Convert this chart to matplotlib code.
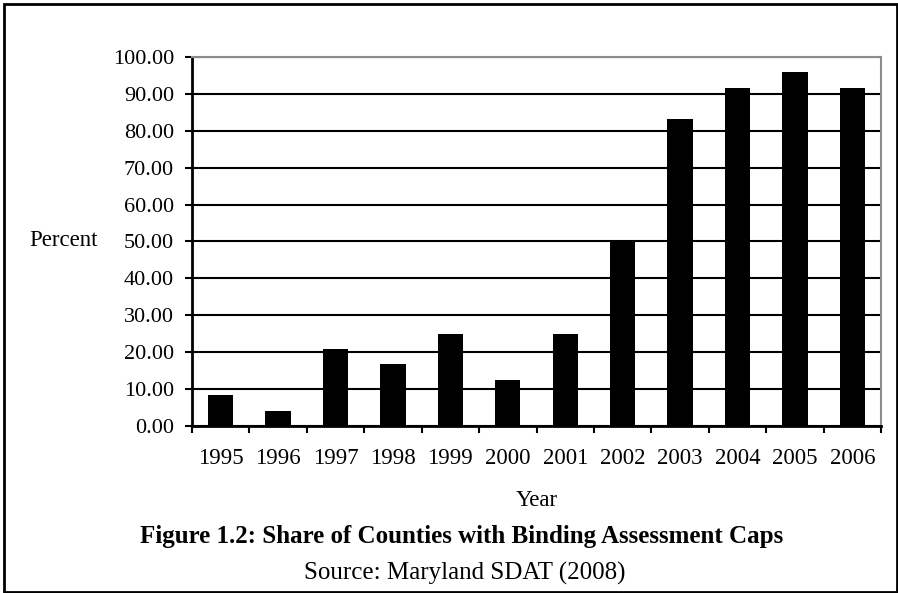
import matplotlib.pyplot as plt
from matplotlib.patches import Rectangle
from matplotlib.ticker import FormatStrFormatter, FixedLocator

# share of counties with a binding cap, by year (percent)
years = ["1995", "1996", "1997", "1998", "1999", "2000",
         "2001", "2002", "2003", "2004", "2005", "2006"]
share = [8.33, 4.17, 20.83, 16.67, 25.00, 12.50,
         25.00, 50.00, 83.33, 91.67, 95.83, 91.67]

plt.rcParams["font.family"] = ["Liberation Serif", "DejaVu Serif"]

fig = plt.figure(figsize=(8.98, 5.93), dpi=100)
ax = fig.add_axes([0.2138, 0.2816, 0.7673, 0.6223])

x = list(range(len(years)))
ax.bar(x, share, width=0.44, color="black", zorder=3)

ax.set_xlim(-0.5, len(years) - 0.5)
ax.set_ylim(0, 100)
ax.set_yticks(range(0, 101, 10))
ax.yaxis.set_major_formatter(FormatStrFormatter("%.2f"))
ax.yaxis.grid(True, color="black", linewidth=1.5, zorder=1)

ax.set_xticks(x)
ax.set_xticklabels(years)
ax.xaxis.set_minor_locator(FixedLocator([i - 0.5 for i in range(len(years) + 1)]))
ax.tick_params(axis="x", which="major", length=0, pad=16, labelsize=16.5)
ax.tick_params(axis="x", which="minor", length=5, width=1.5, direction="out")
ax.tick_params(axis="y", length=5, width=1.5, pad=8, labelsize=16)

for side in ("left", "bottom"):
    ax.spines[side].set_linewidth(2)
    ax.spines[side].set_color("black")
for side in ("top", "right"):
    ax.spines[side].set_linewidth(1.5)
    ax.spines[side].set_color("#8c8c8c")

fig.text(0.071, 1 - 241 / 593, "Percent", fontsize=16.5, ha="center", va="center")
fig.text(0.5975, 1 - 500 / 593, "Year", fontsize=16.5, ha="center", va="center")
fig.text(0.514, 1 - 537 / 593,
         "Figure 1.2: Share of Counties with Binding Assessment Caps",
         fontsize=18, fontweight="bold", ha="center", va="center")
fig.text(0.518, 1 - 573 / 593, "Source: Maryland SDAT (2008)",
         fontsize=18, ha="center", va="center")

# outer frame
fig.patches.append(Rectangle((4 / 898, 1 / 593), 893 / 898, 588 / 593,
                             transform=fig.transFigure, fill=False,
                             edgecolor="black", linewidth=2))

fig.savefig("out.png", dpi=100)
